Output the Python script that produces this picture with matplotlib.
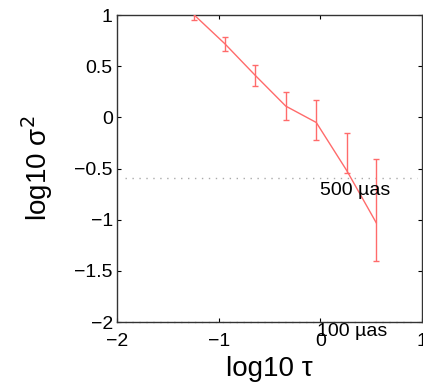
import matplotlib
matplotlib.use("Agg")
import matplotlib.pyplot as plt
import numpy as np

# data
log_tau = [-1.24, -0.94, -0.64, -0.34, -0.04, 0.26, 0.55]
log_sigma2 = [1.00, 0.72, 0.41, 0.11, -0.05, -0.52, -1.03]
err_low = [0.05, 0.07, 0.10, 0.14, 0.17, 0.02, 0.37]
err_high = [0.05, 0.07, 0.10, 0.14, 0.22, 0.37, 0.62]

ref_levels = [-0.59, -2.0]
ref_labels = ["500 \u00b5as", "100 \u00b5as"]
ref_label_pos = [(0.0, -0.71), (-0.03, -2.09)]
ref_xrange = (-1.92, 0.95)

xticks = [-2, -1, 0, 1]
yticks = [-2, -1.5, -1, -0.5, 0, 0.5, 1]
ytick_labels = ["\u22122", "\u22121.5", "\u22121", "\u22120.5", "0", "0.5", "1"]
xtick_labels = ["\u22122", "\u22121", "0", "1"]

plt.rcParams['font.family'] = ['Liberation Sans', 'DejaVu Sans']

fig = plt.figure(figsize=(4.23, 3.88), dpi=100)
ax = fig.add_axes([0.2766, 0.170, 0.7210, 0.7913])

red = (1.0, 0.42, 0.42)
ax.errorbar(log_tau, log_sigma2, yerr=[err_low, err_high], color=red,
            lw=1.0, elinewidth=1.0, capsize=2.5, capthick=1.0, zorder=3)

for lev in ref_levels:
    ax.hlines(lev, ref_xrange[0], ref_xrange[1], colors="#aaaaaa",
              linestyles=(0, (1, 4)), lw=1.0, zorder=2, clip_on=False)
for lab, (tx, ty) in zip(ref_labels, ref_label_pos):
    ax.text(tx, ty, lab, fontsize=14, va="center", ha="left", zorder=4,
            clip_on=False)

ax.set_xlim(-2, 1)
ax.set_ylim(-2, 1)
ax.set_xticks(xticks)
ax.set_xticklabels(xtick_labels)
ax.set_yticks(yticks)
ax.set_yticklabels(ytick_labels)
ax.tick_params(direction="in", top=True, right=True, labelsize=14,
               length=3, width=0.8, pad=3)
ax.tick_params(axis="x", pad=8)
for s in ax.spines.values():
    s.set_linewidth(1.0)
    s.set_color("#333333")

ax.set_xlabel("log10 \u03c4", fontsize=20, labelpad=4)
ax.set_ylabel("log10 \u03c3$^2$", fontsize=20, labelpad=14)

fig.savefig("out.png", dpi=100)
